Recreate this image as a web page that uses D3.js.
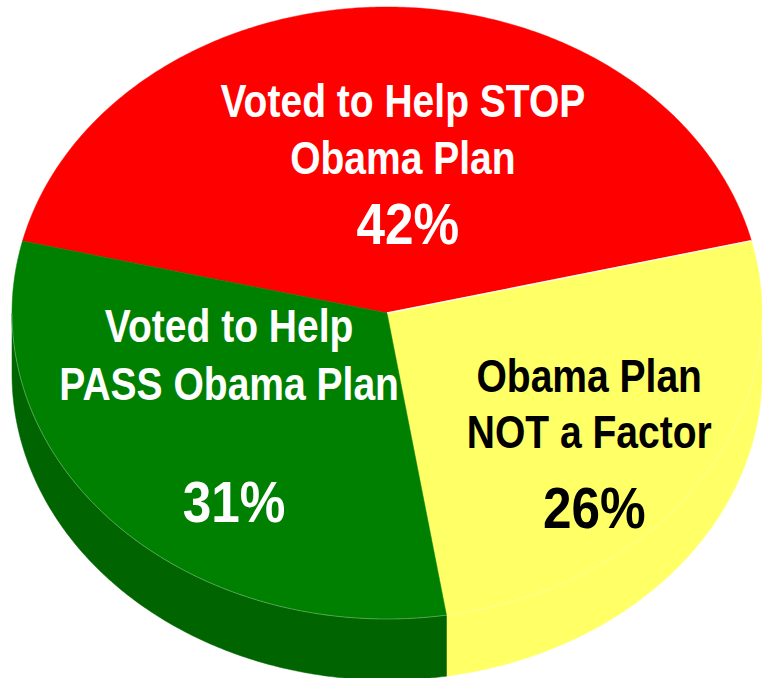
<!DOCTYPE html>
<html>
<head>
<meta charset="utf-8">
<script src="https://cdn.jsdelivr.net/npm/d3@7/dist/d3.min.js"></script>
<style>
  html, body { margin: 0; padding: 0; background: #ffffff; }
  svg { display: block; }
  text { font-family: "Liberation Sans", Arial, sans-serif; font-weight: bold; }
</style>
</head>
<body>
<svg id="chart" width="762" height="678"></svg>
<script>
// ---- data ----
const categories = ["Voted to Help STOP Obama Plan", "Obama Plan NOT a Factor", "Voted to Help PASS Obama Plan"];
const values = [42, 26, 31];
const labelLines = [["Voted to Help STOP", "Obama Plan"], ["Obama Plan", "NOT a Factor"], ["Voted to Help", "PASS Obama Plan"]];
const percentLabels = ["42%", "26%", "31%"];
const topColors = ["#ff0000", "#ffff66", "#008000"];
const sideColors = ["#c00000", "#ffff66", "#006400"];
const textColors = ["#ffffff", "#000000", "#ffffff"];

// ---- geometry ----
const cx = 387, cy = 313, rx = 375, ry = 306, depth = 61;
const startDeg = -76.4;

const svg = d3.select("#chart");

const pie = d3.pie().sort(null).value(d => d)
  .startAngle(startDeg * Math.PI / 180)
  .endAngle(startDeg * Math.PI / 180 + 2 * Math.PI);
const arcs = pie(values);

function proj(a, r, dz) {
  return [cx + rx * r * Math.sin(a), cy - ry * r * Math.cos(a) + (dz || 0)];
}
function arcPoints(a0, a1, dz) {
  const n = Math.max(2, Math.ceil(Math.abs(a1 - a0) / 0.01));
  return d3.range(n + 1).map(i => proj(a0 + (a1 - a0) * i / n, 1, dz));
}
const line = d3.line();

// sides (front half only)
const lo = Math.PI / 2, hi = 3 * Math.PI / 2;
arcs.forEach((d, i) => {
  const s = Math.max(d.startAngle, lo), e = Math.min(d.endAngle, hi);
  if (e <= s) return;
  const pts = arcPoints(s, e, 0).concat(arcPoints(e, s, depth));
  svg.append("path").attr("d", line(pts) + "Z")
    .attr("fill", sideColors[i]).attr("stroke", sideColors[i]).attr("stroke-width", 0.5);
});

// tops
arcs.forEach((d, i) => {
  const pts = [[cx, cy]].concat(arcPoints(d.startAngle, d.endAngle, 0));
  svg.append("path").attr("d", line(pts) + "Z")
    .attr("fill", topColors[i]).attr("stroke", topColors[i]).attr("stroke-width", 0.5);
});

// faint rim line between top and side
svg.append("path").attr("d", line(arcPoints(lo, hi, 0)))
  .attr("fill", "none").attr("stroke", "rgba(255,255,255,0.35)").attr("stroke-width", 0.8);

// thin white separation between first and second slice
{
  const p = proj(arcs[0].endAngle, 1, 0);
  svg.append("path").attr("d", line([[cx, cy], p]))
    .attr("stroke", "#ffffff").attr("stroke-width", 1.3).attr("fill", "none").attr("opacity", 0.9);
}

// ---- labels ----
const layout = [
  { r: 0.49, da: 5, dy: [-47, 10, 80] },
  { r: 0.69, da: 5, dy: [-53, 3, 83] },
  { r: 0.54, da: 4, dy: [-74, -16, 106] }
];
function addText(g, x, y, size, sx, t) {
  g.append("text")
    .attr("transform", `translate(${x},${y}) scale(${sx},1)`)
    .attr("font-size", size).text(t);
}
arcs.forEach((d, i) => {
  const L = layout[i];
  const mid = (d.startAngle + d.endAngle) / 2 + L.da * Math.PI / 180;
  const [x, y] = proj(mid, L.r, 0);
  const g = svg.append("g").attr("fill", textColors[i]).attr("text-anchor", "middle");
  labelLines[i].forEach((t, j) => addText(g, x, y + L.dy[j], 47, 0.83, t));
  addText(g, x + 5, y + L.dy[2], 57, 0.9, percentLabels[i]);
});
</script>
</body>
</html>
